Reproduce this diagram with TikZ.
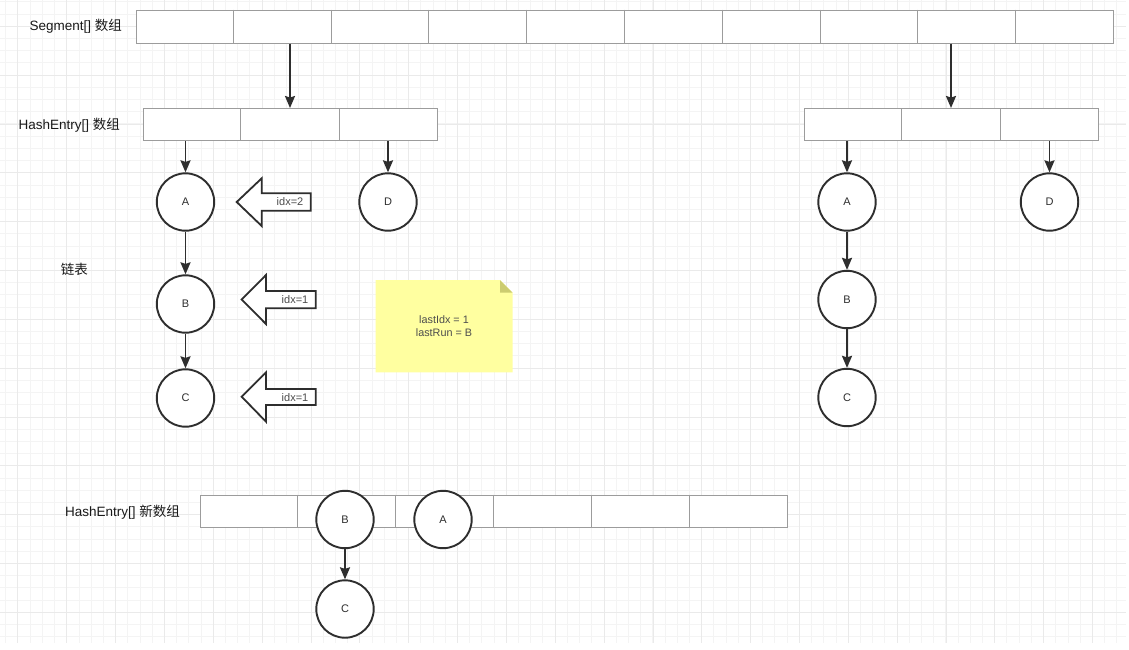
\documentclass[tikz,border=0pt]{standalone}
\usepackage{fontspec}
\setmainfont{Liberation Sans}
\newfontfamily\cjk{Noto Sans CJK SC}
\usetikzlibrary{arrows.meta,calc}
\definecolor{gridminor}{HTML}{F4F4F4}
\definecolor{gridmajor}{HTML}{EAEAEA}
\definecolor{cellline}{HTML}{9C9C9C}
\definecolor{ink}{HTML}{2E2E2E}
\definecolor{notefill}{HTML}{FFFFA0}
\definecolor{notefold}{HTML}{CCCC70}
\tikzset{
  arr/.style={draw=cellline, line width=1pt, fill=white, rectangle, inner sep=0pt},
  entry/.style={draw=ink, line width=1.9pt, fill=white, circle, minimum size=57.4pt, inner sep=0pt, font=\fontsize{11}{13}\selectfont, text=ink},
  link/.style={draw=ink, line width=1.9pt, -{Stealth[length=12pt,width=10pt,inset=1.5pt]}},
  lbl/.style={font=\fontsize{13.5}{16}\selectfont, text=black!90, anchor=east, inner sep=0pt},
  blockarrow/.style={draw=ink, line width=1.8pt, fill=white, line join=miter},
  small/.style={font=\fontsize{11}{13}\selectfont, text=ink!85, inner sep=0pt}
}
\begin{document}
\begin{tikzpicture}[x=1pt,y=-1pt]
\useasboundingbox (0,0) rectangle (1129,649);
\fill[white] (0,0) rectangle (1129,649);
% grid
\foreach \i in {0,...,92} \draw[gridminor, line width=0.7pt] (5.6+\i*12.21,0) -- (5.6+\i*12.21,643);
\foreach \i in {0,...,52} \draw[gridminor, line width=0.7pt] (0,1.7+\i*12.21) -- (1126,1.7+\i*12.21);
\foreach \i in {0,...,22} \draw[gridmajor, line width=0.7pt] (17.8+\i*48.85,0) -- (17.8+\i*48.85,643);
\foreach \i in {0,...,12} \draw[gridmajor, line width=0.7pt] (0,26.15+\i*48.85) -- (1126,26.15+\i*48.85);

% labels
\node[lbl] (lseg) at (122,26) {Segment[] {\cjk 数组}};
\node[lbl] (lhe) at (120,125) {HashEntry[] {\cjk 数组}};
\node[lbl] (llist) at (88,269) {{\cjk 链表}};
\node[lbl] (lnew) at (180,512) {HashEntry[] {\cjk 新数组}};

% arrays
\node[arr, minimum width=977pt, minimum height=33pt] (seg) at (624.5,26.5) {};
\foreach \i in {1,...,9}
  \draw[cellline, line width=1pt] ($(seg.north west)!\i/10!(seg.north east)$) -- ($(seg.south west)!\i/10!(seg.south east)$);
\node[arr, minimum width=294pt, minimum height=32pt] (hl) at (290,124.5) {};
\node[arr, minimum width=294pt, minimum height=32pt] (hr) at (951,124.5) {};
\foreach \a in {hl,hr}
  \foreach \i in {1,2}
    \draw[cellline, line width=1pt] ($(\a.north west)!\i/3!(\a.north east)$) -- ($(\a.south west)!\i/3!(\a.south east)$);
\node[arr, minimum width=587pt, minimum height=32pt] (hn) at (493.5,511) {};
\foreach \i in {1,...,5}
  \draw[cellline, line width=1pt] ($(hn.north west)!\i/6!(hn.north east)$) -- ($(hn.south west)!\i/6!(hn.south east)$);

% segment -> hash arrays
\draw[link] (hl.north |- seg.south) -- (hl.north);
\draw[link] (hr.north |- seg.south) -- (hr.north);

% left chain
\node[entry] (la) at (185.5,202) {A};
\node[entry] (lb) at (185.5,304) {B};
\node[entry] (lc) at (185.5,398) {C};
\node[entry] (ld) at (388,202) {D};
\draw[link] (la.north |- hl.south) -- (la.north);
\draw[link] (ld.north |- hl.south) -- (ld.north);
\draw[link] (la) -- (lb);
\draw[link] (lb) -- (lc);

% right chain
\node[entry] (ra) at (847,202) {A};
\node[entry] (rb) at (847,299.5) {B};
\node[entry] (rc) at (847,397.5) {C};
\node[entry] (rd) at (1049.5,202) {D};
\draw[link] (ra.north |- hr.south) -- (ra.north);
\draw[link] (rd.north |- hr.south) -- (rd.north);
\draw[link] (ra) -- (rb);
\draw[link] (rb) -- (rc);

% block arrows
\draw[blockarrow] (236.7,202) -- (261.7,178.3) -- (261.7,193.3) -- (310.7,193.3) -- (310.7,210.7) -- (261.7,210.7) -- (261.7,226) -- cycle;
\node[small] (t1) at (290,202) {idx=2};
\draw[blockarrow] (241.7,299.5) -- (266,275) -- (266,291) -- (315.7,291) -- (315.7,308.3) -- (266,308.3) -- (266,324) -- cycle;
\node[small] (t2) at (295,300) {idx=1};
\draw[blockarrow] (241.7,396.7) -- (266,372.3) -- (266,389) -- (315.7,389) -- (315.7,405) -- (266,405) -- (266,421.7) -- cycle;
\node[small] (t3) at (295,398) {idx=1};

% note
\fill[notefill] (375.7,280) -- (500,280) -- (512.7,292.7) -- (512.7,372.3) -- (375.7,372.3) -- cycle;
\fill[notefold] (500,280) -- (512.7,292.7) -- (500,292.7) -- cycle;
\node[small, align=center, font=\fontsize{10.8}{12.5}\selectfont] (note) at (444,326) {lastIdx = 1\\lastRun = B};

% new array entries
\node[entry] (nb) at (345,519.5) {B};
\node[entry] (na) at (443,519.5) {A};
\node[entry] (nc) at (345,609) {C};
\draw[link] (nb) -- (nc);
\end{tikzpicture}
\end{document}
